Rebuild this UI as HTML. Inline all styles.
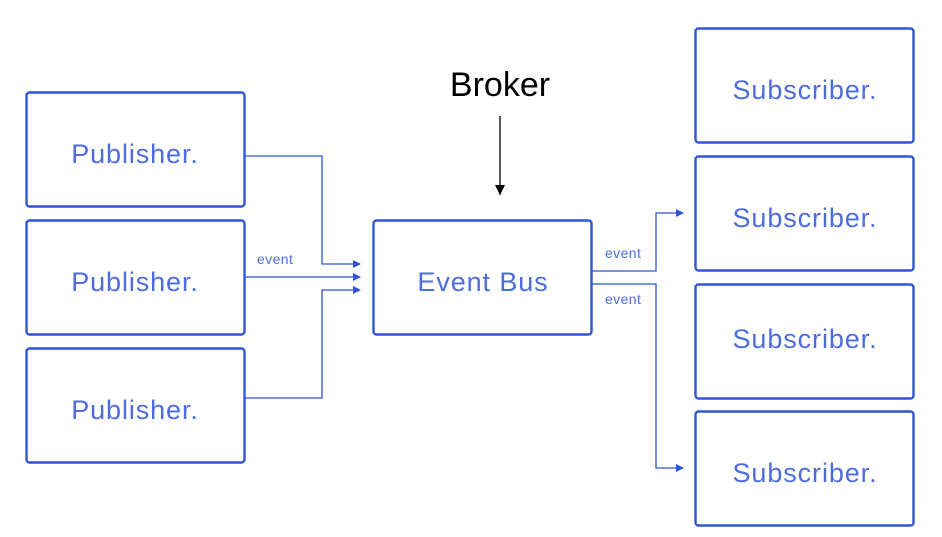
<!DOCTYPE html>
<html><head><meta charset="utf-8"><style>
body{margin:0;background:#fff;}
</style></head><body>
<svg width="942" height="532" xmlns="http://www.w3.org/2000/svg" font-family="Liberation Sans, sans-serif">
<defs>
<marker id="a" markerWidth="8" markerHeight="8" refX="7" refY="4" orient="auto" markerUnits="userSpaceOnUse"><path d="M0,0 L8,4 L0,8 z" fill="#2f55d4"/></marker>
</defs>
<g fill="none" stroke="#2f55d4" stroke-width="2.4">
<rect x="26.5" y="92.5" width="218" height="114" rx="3"/>
<rect x="26.5" y="220.5" width="218" height="114" rx="3"/>
<rect x="26.5" y="348.5" width="218" height="114" rx="3"/>
<rect x="373.5" y="220.5" width="218" height="114" rx="3"/>
<rect x="695.5" y="28.5" width="218" height="114" rx="3"/>
<rect x="695.5" y="156.5" width="218" height="114" rx="3"/>
<rect x="695.5" y="284.5" width="218" height="114" rx="3"/>
<rect x="695.5" y="411.5" width="218" height="114" rx="3"/>
</g>
<g fill="none" stroke="#2f55d4" stroke-width="1.3">
<path d="M245,156 H322 V264 H360" marker-end="url(#a)"/>
<path d="M245,277 H360" marker-end="url(#a)"/>
<path d="M245,398 H322 V290 H360" marker-end="url(#a)"/>
<path d="M592,271 H656 V213 H683" marker-end="url(#a)"/>
<path d="M592,284 H656 V468 H683" marker-end="url(#a)"/>
</g>
<line x1="500" y1="116" x2="500" y2="195" stroke="#000" stroke-width="1.3"/>
<path d="M495,185 L505,185 L500,195 z" fill="#000"/>
<text x="500" y="96" font-size="34" text-anchor="middle" fill="#000">Broker</text>
<g fill="#4d6ddc" font-size="27" text-anchor="middle" letter-spacing="0.9">
<text x="135" y="163">Publisher.</text>
<text x="135" y="291">Publisher.</text>
<text x="135" y="419">Publisher.</text>
<text x="483" y="291">Event Bus</text>
<text x="805" y="99">Subscriber.</text>
<text x="805" y="227">Subscriber.</text>
<text x="805" y="348">Subscriber.</text>
<text x="805" y="482">Subscriber.</text>
</g>
<g fill="#4d6ddc" font-size="14" letter-spacing="0.4">
<text x="257" y="264">event</text>
<text x="605" y="258">event</text>
<text x="605" y="304">event</text>
</g>
</svg>
</body></html>
